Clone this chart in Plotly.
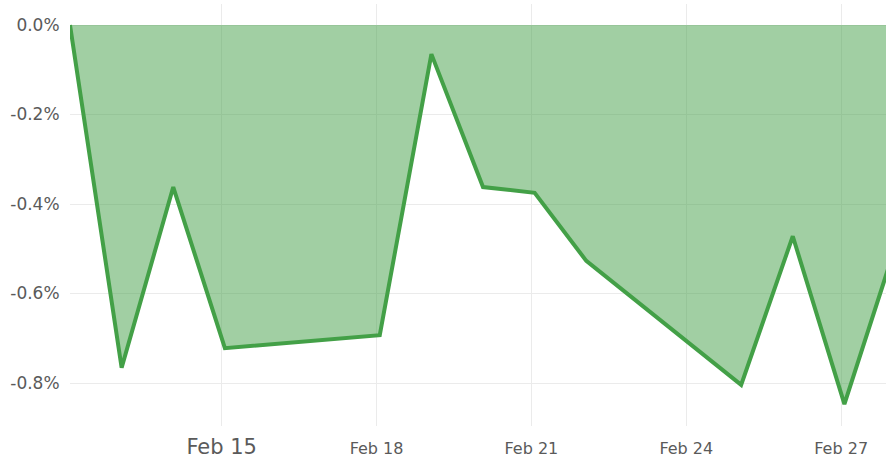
import plotly.graph_objects as go

dates = ["2019-02-12 01:30", "2019-02-13 01:30", "2019-02-14 01:30", "2019-02-15 01:30",
         "2019-02-18 01:30", "2019-02-19 01:30", "2019-02-20 01:30", "2019-02-21 01:30",
         "2019-02-22 01:30", "2019-02-25 01:30", "2019-02-26 01:30", "2019-02-27 01:30",
         "2019-02-28 01:30"]
drawdown = [0.0, -0.766, -0.362, -0.722, -0.693, -0.065, -0.362, -0.375,
            -0.527, -0.804, -0.472, -0.847, -0.49]

x_tickvals = ["2019-02-15", "2019-02-18", "2019-02-21", "2019-02-24", "2019-02-27"]
x_ticktext = ['<span style="font-size:21px">Feb 15</span>', "Feb 18", "Feb 21", "Feb 24", "Feb 27"]
y_tickvals = [0.0, -0.2, -0.4, -0.6, -0.8]
y_ticktext = ["0.0%", "-0.2%", "-0.4%", "-0.6%", "-0.8%"]

fig = go.Figure()
fig.add_trace(go.Scatter(
    x=dates, y=drawdown, mode="lines", fill="tozeroy",
    line=dict(color="#43a047", width=4),
    fillcolor="rgba(67,160,71,0.5)",
    hoverinfo="skip",
))

fig.update_layout(
    width=886, height=461,
    margin=dict(l=70, r=0, t=4, b=35),
    paper_bgcolor="white", plot_bgcolor="white",
    showlegend=False,
    font=dict(family="DejaVu Sans", color="#5a5a5a", size=16),
    xaxis=dict(
        automargin=False,
        range=["2019-02-12 01:30", "2019-02-27 20:50"],
        tickmode="array", tickvals=x_tickvals, ticktext=x_ticktext,
        showgrid=True, gridcolor="#ebebeb", gridwidth=1,
        zeroline=False, showline=False,
        ticks="outside", ticklen=8, tickcolor="rgba(0,0,0,0)",
        tickfont=dict(size=16),
    ),
    yaxis=dict(
        automargin=False,
        range=[-0.896, 0.047],
        tickmode="array", tickvals=y_tickvals, ticktext=y_ticktext,
        showgrid=True, gridcolor="#ebebeb", gridwidth=1,
        zeroline=False, showline=False,
        ticks="outside", ticklen=6, tickcolor="rgba(0,0,0,0)",
        tickfont=dict(size=17),
    ),
)

fig.write_html("out.html", config={"displayModeBar": False},
               post_script="document.body.style.margin='0';document.body.style.overflow='hidden';")
